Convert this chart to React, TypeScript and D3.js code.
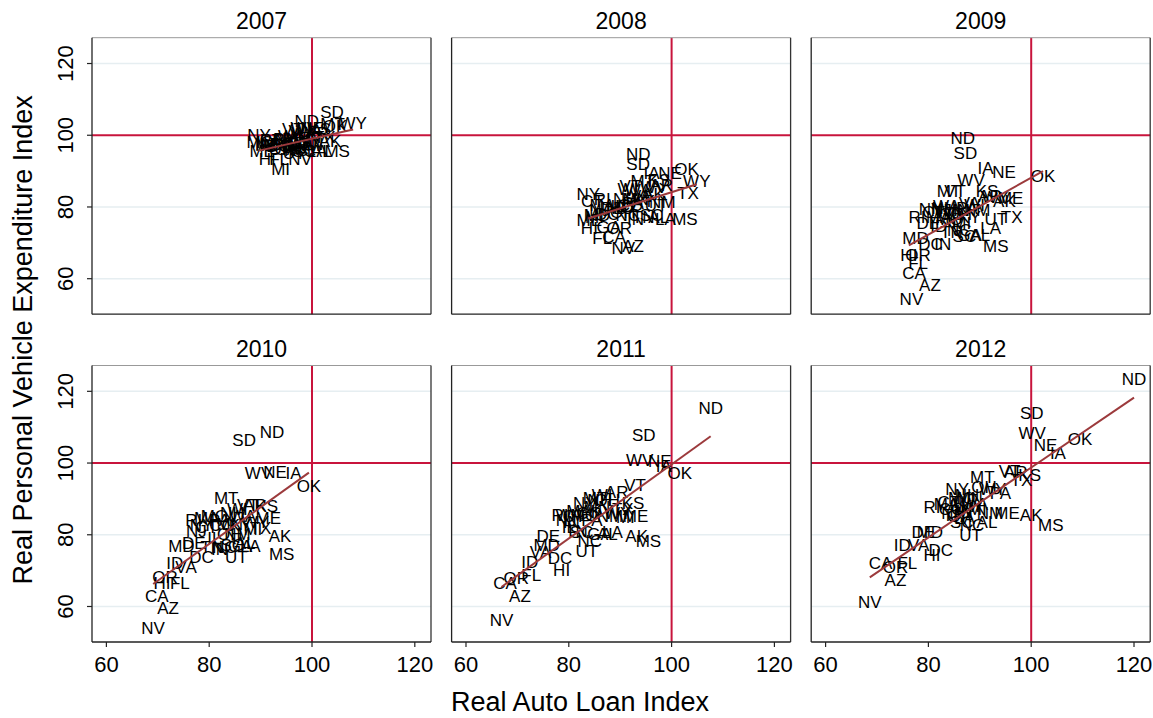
import React from "react";
import * as d3 from "d3";

type Pt = [string, number, number];

const years = ["2007", "2008", "2009", "2010", "2011", "2012"];
const xTicks = [60, 80, 100, 120];
const yTicks = [60, 80, 100, 120];
const refValue = 100;
const xTitle = "Real Auto Loan Index";
const yTitle = "Real Personal Vehicle Expenditure Index";

const d2007: Pt[] = [
  ["AL", 101.8, 95.6], ["AK", 103.5, 98.2], ["AZ", 97.0, 96.5], ["AR", 101.0, 100.5], ["CA", 95.0, 96.0],
  ["CO", 97.5, 98.0], ["CT", 92.0, 98.5], ["DE", 94.5, 97.3], ["DC", 93.5, 96.8], ["FL", 93.6, 93.2],
  ["GA", 98.0, 96.3], ["HI", 91.3, 93.3], ["ID", 96.0, 97.8], ["IL", 95.5, 97.0], ["IN", 97.2, 97.0],
  ["IA", 100.5, 101.0], ["KS", 101.5, 101.5], ["KY", 99.5, 98.5], ["LA", 101.0, 95.5], ["ME", 90.3, 95.4],
  ["MD", 91.5, 97.2], ["MA", 92.5, 97.0], ["MI", 93.9, 90.4], ["MN", 97.0, 99.0], ["MS", 104.9, 95.4],
  ["MO", 89.9, 97.9], ["MT", 104.0, 103.0], ["NE", 100.0, 102.0], ["NV", 97.7, 93.1], ["NH", 95.0, 98.7],
  ["NJ", 91.0, 97.5], ["NM", 99.0, 97.0], ["NY", 89.7, 99.9], ["NC", 97.0, 95.8], ["ND", 99.0, 103.7],
  ["OH", 96.5, 96.5], ["OK", 104.5, 102.5], ["OR", 94.0, 96.0], ["PA", 94.5, 98.8], ["RI", 91.5, 98.5],
  ["SC", 98.5, 95.5], ["SD", 103.9, 106.2], ["TN", 100.0, 97.5], ["TX", 102.5, 99.5], ["UT", 96.5, 95.0],
  ["VT", 96.3, 101.5], ["VA", 97.5, 101.0], ["WA", 96.0, 99.7], ["WV", 98.5, 102.0], ["WI", 98.0, 100.5],
  ["WY", 108.0, 103.4],
];

const d2008: Pt[] = [
  ["AL", 97.5, 77.0], ["AK", 96.5, 83.6], ["AZ", 92.5, 68.9], ["AR", 98.0, 86.0], ["CA", 88.8, 71.5],
  ["CO", 92.0, 80.5], ["CT", 84.6, 81.5], ["DE", 88.5, 79.5], ["DC", 87.5, 78.0], ["FL", 86.5, 71.3],
  ["GA", 87.8, 74.2], ["HI", 84.0, 74.1], ["ID", 91.0, 80.0], ["IL", 89.5, 80.0], ["IN", 93.0, 76.5],
  ["IA", 96.1, 89.4], ["KS", 97.5, 87.5], ["KY", 94.5, 81.5], ["LA", 98.8, 76.6], ["ME", 84.0, 76.3],
  ["MD", 85.5, 77.5], ["MA", 86.5, 80.5], ["MI", 85.0, 77.0], ["MN", 93.0, 82.0], ["MS", 102.6, 76.6],
  ["MO", 90.0, 79.5], ["MT", 94.4, 87.1], ["NE", 99.7, 89.4], ["NV", 90.6, 68.5], ["NH", 91.0, 82.0],
  ["NJ", 86.0, 79.0], ["NM", 98.2, 81.3], ["NY", 83.8, 83.5], ["NC", 91.5, 77.5], ["ND", 93.5, 94.5],
  ["OH", 90.5, 78.5], ["OK", 102.9, 90.5], ["OR", 89.8, 74.0], ["PA", 92.5, 81.0], ["RI", 86.5, 82.0],
  ["SC", 96.1, 77.7], ["SD", 93.5, 91.7], ["TN", 94.5, 77.0], ["TX", 103.2, 83.8], ["UT", 97.0, 80.5],
  ["VT", 92.0, 85.7], ["VA", 94.0, 83.0], ["WA", 93.5, 84.5], ["WV", 96.5, 85.5], ["WI", 91.5, 84.8],
  ["WY", 104.9, 87.1],
];

const d2009: Pt[] = [
  ["AL", 90.0, 72.0], ["AK", 94.8, 81.5], ["AZ", 80.3, 58.0], ["AR", 92.0, 83.0], ["CA", 77.2, 61.5],
  ["CO", 84.5, 78.0], ["CT", 81.0, 78.5], ["DE", 80.0, 75.5], ["DC", 80.4, 69.5], ["FL", 78.0, 64.3],
  ["GA", 88.0, 72.0], ["HI", 76.2, 66.6], ["ID", 82.0, 74.5], ["IL", 85.0, 76.0], ["IN", 82.8, 69.4],
  ["IA", 91.1, 90.8], ["KS", 91.4, 84.3], ["KY", 88.0, 77.0], ["LA", 92.1, 74.1], ["ME", 96.0, 82.4],
  ["MD", 77.5, 71.3], ["MA", 82.0, 77.0], ["MI", 86.5, 75.5], ["MN", 85.5, 79.0], ["MS", 93.1, 68.9],
  ["MO", 84.0, 76.5], ["MT", 84.0, 84.3], ["NE", 94.7, 89.7], ["NV", 76.7, 54.3], ["NH", 83.0, 79.5],
  ["NJ", 82.5, 79.0], ["NM", 89.5, 79.0], ["NY", 80.4, 79.2], ["NC", 86.0, 73.5], ["ND", 86.7, 99.2],
  ["OH", 86.0, 78.0], ["OK", 102.3, 88.5], ["OR", 78.0, 66.6], ["PA", 87.5, 79.5], ["RI", 77.8, 77.0],
  ["SC", 87.0, 71.8], ["SD", 87.2, 94.8], ["TN", 84.5, 73.0], ["TX", 96.2, 77.0], ["UT", 93.1, 76.4],
  ["VT", 85.2, 84.3], ["VA", 88.0, 81.0], ["WA", 83.5, 80.0], ["WV", 88.3, 87.3], ["WI", 89.0, 80.5],
  ["WY", 93.0, 82.5],
];

const d2010: Pt[] = [
  ["AL", 87.0, 77.5], ["AK", 93.8, 79.4], ["AZ", 72.0, 59.4], ["AR", 88.9, 88.2], ["CA", 69.8, 62.7],
  ["CO", 82.5, 82.5], ["CT", 79.5, 82.0], ["DE", 77.0, 77.5], ["DC", 78.5, 73.8], ["FL", 74.3, 66.4],
  ["GA", 86.0, 76.8], ["HI", 70.8, 66.4], ["ID", 73.3, 72.0], ["IL", 81.0, 79.0], ["IN", 82.0, 76.0],
  ["IA", 96.4, 97.1], ["KS", 91.2, 87.8], ["KY", 86.0, 82.5], ["LA", 88.0, 76.8], ["ME", 91.5, 84.5],
  ["MD", 74.6, 76.6], ["MA", 79.5, 84.5], ["MI", 88.5, 81.5], ["MN", 84.0, 83.0], ["MS", 94.1, 74.6],
  ["MO", 81.0, 85.0], ["MT", 83.3, 90.0], ["NE", 92.8, 97.5], ["NV", 69.1, 53.8], ["NH", 84.5, 86.0],
  ["NJ", 77.5, 81.0], ["NM", 85.5, 80.0], ["NY", 78.5, 82.5], ["NC", 83.0, 76.5], ["ND", 92.2, 108.4],
  ["OH", 84.0, 80.0], ["OK", 99.4, 93.5], ["OR", 71.4, 68.2], ["PA", 82.0, 84.0], ["RI", 77.0, 84.0],
  ["SC", 84.5, 77.0], ["SD", 86.8, 106.4], ["TN", 80.5, 76.5], ["TX", 90.0, 81.7], ["UT", 85.3, 73.8],
  ["VT", 87.5, 88.3], ["VA", 75.5, 70.8], ["WA", 86.5, 85.0], ["WV", 89.6, 97.1], ["WI", 85.5, 87.0],
  ["WY", 89.0, 83.5],
];

const d2011: Pt[] = [
  ["AL", 87.5, 80.0], ["AK", 93.2, 79.4], ["AZ", 70.5, 62.7], ["AR", 89.3, 91.9], ["CA", 67.6, 66.4],
  ["CO", 84.0, 86.0], ["CT", 81.0, 85.0], ["DE", 76.0, 79.4], ["DC", 78.3, 73.4], ["FL", 72.7, 68.7],
  ["GA", 86.0, 80.0], ["HI", 78.6, 70.1], ["ID", 72.4, 72.4], ["IL", 80.0, 82.0], ["IN", 80.5, 83.5],
  ["IA", 98.5, 99.0], ["KS", 92.5, 88.7], ["KY", 86.5, 86.5], ["LA", 88.5, 80.5], ["ME", 93.0, 85.0],
  ["MD", 75.7, 77.1], ["MA", 82.0, 86.5], ["MI", 91.0, 84.7], ["MN", 85.5, 87.5], ["MS", 95.5, 78.0],
  ["MO", 83.0, 85.5], ["MT", 85.1, 90.1], ["NE", 97.7, 100.3], ["NV", 66.9, 56.1], ["NH", 86.0, 89.5],
  ["NJ", 79.5, 84.0], ["NM", 88.0, 85.0], ["NY", 83.1, 88.7], ["NC", 84.1, 78.0], ["ND", 107.6, 115.2],
  ["OH", 87.5, 89.5], ["OK", 101.6, 97.1], ["OR", 69.8, 67.8], ["PA", 84.5, 84.0], ["RI", 78.3, 85.4],
  ["SC", 82.5, 80.5], ["SD", 94.6, 107.8], ["TN", 81.5, 81.0], ["TX", 90.5, 87.0], ["UT", 83.5, 75.2],
  ["VT", 92.9, 93.8], ["VA", 74.5, 75.0], ["WA", 80.0, 85.5], ["WV", 93.8, 100.8], ["WI", 86.5, 91.0],
  ["WY", 89.5, 86.0],
];

const d2012: Pt[] = [
  ["AL", 91.4, 83.5], ["AK", 100.0, 85.4], ["AZ", 73.6, 67.3], ["AR", 97.0, 97.3], ["CA", 70.7, 71.9],
  ["CO", 84.5, 87.0], ["CT", 84.0, 89.0], ["DE", 79.0, 80.5], ["DC", 82.4, 75.6], ["FL", 75.9, 71.9],
  ["GA", 86.0, 85.0], ["HI", 80.7, 74.3], ["ID", 74.9, 77.0], ["IL", 85.5, 88.0], ["IN", 87.0, 86.5],
  ["IA", 105.2, 102.8], ["KS", 99.7, 96.6], ["KY", 88.5, 88.0], ["LA", 87.0, 84.5], ["ME", 95.3, 85.9],
  ["MD", 80.3, 80.5], ["MA", 83.5, 88.5], ["MI", 89.5, 87.0], ["MN", 88.0, 90.0], ["MS", 103.8, 82.6],
  ["MO", 86.5, 90.0], ["MT", 90.5, 95.9], ["NE", 102.8, 104.9], ["NV", 68.6, 61.2], ["NH", 87.5, 91.0],
  ["NJ", 84.5, 86.0], ["NM", 92.0, 86.0], ["NY", 85.6, 92.6], ["NC", 88.5, 82.6], ["ND", 120.0, 123.3],
  ["OH", 90.8, 93.1], ["OK", 109.5, 106.6], ["OR", 73.6, 71.0], ["PA", 94.0, 91.6], ["RI", 80.7, 87.7],
  ["SC", 86.5, 83.5], ["SD", 100.1, 113.8], ["TN", 85.0, 85.5], ["TX", 98.1, 95.0], ["UT", 88.2, 79.8],
  ["VT", 95.8, 97.6], ["VA", 78.1, 77.0], ["WA", 89.0, 88.5], ["WV", 100.2, 108.2], ["WI", 87.0, 88.0],
  ["WY", 92.5, 92.5],
];

const panelData: Pt[][] = [d2007, d2008, d2009, d2010, d2011, d2012];

function fitLine(pts: Pt[]) {
  const mx = d3.mean(pts, (p) => p[1])!;
  const my = d3.mean(pts, (p) => p[2])!;
  let sxy = 0, sxx = 0;
  for (const p of pts) {
    sxy += (p[1] - mx) * (p[2] - my);
    sxx += (p[1] - mx) * (p[1] - mx);
  }
  const b = sxy / sxx;
  const a = my - b * mx;
  const [x0, x1] = d3.extent(pts, (p) => p[1]) as [number, number];
  return [[x0, a + b * x0], [x1, a + b * x1]] as [number, number][];
}

const FONT = "'Liberation Sans', Arial, Helvetica, sans-serif";

export default function App() {
  const W = 1153, H = 718;
  const pw = 339, ph = 276.5;
  const lefts = [92, 451.6, 811.2];
  const tops = [37.7, 365.5];
  const x = d3.scaleLinear().domain([57.2, 123.15]).range([0, pw]);
  const y = d3.scaleLinear().domain([50.1, 127.2]).range([ph, 0]);
  const refColor = "#c8143c";
  const fitColor = "#9c3a3c";
  const gridColor = "#e6eef1";
  const line = d3.line<[number, number]>().x((d) => x(d[0])).y((d) => y(d[1]));

  return (
    <svg width={W} height={H} style={{ position: "absolute", left: 0, top: 0, background: "#fff" }} fontFamily={FONT}>
      <rect x={0} y={0} width={W} height={H} fill="#fff" />
      {panelData.map((pts, i) => {
        const col = i % 3, row = Math.floor(i / 3);
        const L = lefts[col], T = tops[row];
        const fit = fitLine(pts);
        return (
          <g key={years[i]} transform={`translate(${L},${T})`}>
            <text x={pw / 2} y={-8.5} textAnchor="middle" fontSize={23} fill="#000">{years[i]}</text>
            {yTicks.filter((t) => t !== refValue).map((t) => (
              <line key={t} x1={0} x2={pw} y1={y(t)} y2={y(t)} stroke={gridColor} strokeWidth={1.5} />
            ))}
            <line x1={0} x2={pw} y1={y(refValue)} y2={y(refValue)} stroke={refColor} strokeWidth={2} />
            <line x1={x(refValue)} x2={x(refValue)} y1={0} y2={ph} stroke={refColor} strokeWidth={2} />
            {pts.map((p) => (
              <text key={p[0]} x={x(p[1])} y={y(p[2])} textAnchor="middle" dominantBaseline="central" fontSize={17} fill="#000">{p[0]}</text>
            ))}
            <path d={line(fit) || ""} fill="none" stroke={fitColor} strokeWidth={2} />
            <line x1={0} x2={pw} y1={0} y2={0} stroke="#999" strokeWidth={1} />
            <line x1={pw} x2={pw} y1={0} y2={ph} stroke="#333" strokeWidth={1.3} />
            <line x1={0} x2={0} y1={0} y2={ph} stroke="#222" strokeWidth={1.3} />
            <line x1={0} x2={pw} y1={ph} y2={ph} stroke="#222" strokeWidth={1.3} />
            {col === 0 && yTicks.map((t) => (
              <g key={t}>
                <line x1={-5} x2={0} y1={y(t)} y2={y(t)} stroke="#222" strokeWidth={1.2} />
                <text transform={`translate(-19,${y(t)}) rotate(-90)`} textAnchor="middle" fontSize={22} fill="#000">{t}</text>
              </g>
            ))}
            {row === 1 && xTicks.map((t) => (
              <g key={t}>
                <line x1={x(t)} x2={x(t)} y1={ph} y2={ph + 5} stroke="#222" strokeWidth={1.2} />
                <text x={x(t)} y={ph + 30} textAnchor="middle" fontSize={22} fill="#000">{t}</text>
              </g>
            ))}
          </g>
        );
      })}
      <text x={580} y={711} textAnchor="middle" fontSize={27} fill="#000">{xTitle}</text>
      <text transform={`translate(32,${(tops[0] + tops[1] + ph) / 2}) rotate(-90)`} textAnchor="middle" fontSize={27} fill="#000">{yTitle}</text>
    </svg>
  );
}
